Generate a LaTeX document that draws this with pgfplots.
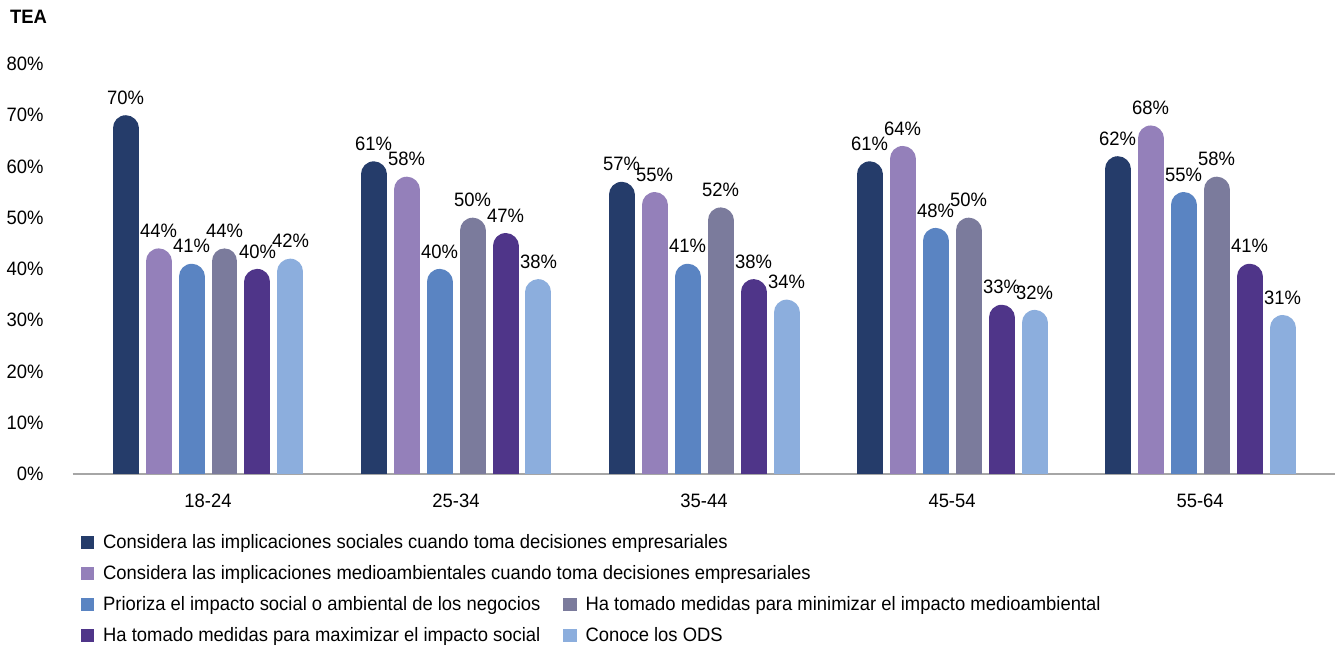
\documentclass[border=0pt]{standalone}
\usepackage{fontspec}
\setmainfont{Liberation Sans}[FakeStretch=0.95]
\usepackage{pgfplots}
\pgfplotsset{compat=1.18}
\usepackage{pgfplotstable}

\definecolor{cA}{HTML}{253C6A}
\definecolor{cB}{HTML}{9480BA}
\definecolor{cC}{HTML}{5A84C2}
\definecolor{cD}{HTML}{7B7B9C}
\definecolor{cE}{HTML}{4F3589}
\definecolor{cF}{HTML}{8CAEDD}
\definecolor{axisgray}{HTML}{A6A6A6}

% TEA por grupo de edad (%)
\pgfplotstableread{
g a b c d e f
0 70 44 41 44 40 42
1 61 58 40 50 47 38
2 57 55 41 52 38 34
3 61 64 48 50 33 32
4 62 68 55 58 41 31
}\teadata

\newcommand{\chartfont}{\fontsize{9.7}{11}\selectfont}

\begin{document}
\begin{tikzpicture}
\begin{axis}[
    name=ax,
    at={(0,0)}, anchor=south west,
    scale only axis,
    width=631.5pt, height=205pt,
    xmin=-0.546, xmax=4.544,
    ymin=0, ymax=80,
    axis x line*=bottom,
    axis y line*=left,
    y axis line style={draw=none},
    x axis line style={draw=axisgray, line width=1pt},
    major tick length=0pt,
    xtick={0,1,2,3,4},
    xticklabels={18-24,25-34,35-44,45-54,55-64},
    ytick={0,10,...,80},
    yticklabel={\pgfmathprintnumber{\tick}\%},
    /pgf/number format/assume math mode=true,
    ticklabel style={font=\chartfont, text=black},
    yticklabel style={xshift=-11pt},
    xticklabel style={yshift=-6.5pt},
    clip=true,
    tbar/.style={ycomb, mark=none, line width=13pt, line cap=round, yshift=-6.5pt},
    nodes near coords={\pgfmathprintnumber{\pgfplotspointmeta}\%},
    every node near coord/.append style={font=\chartfont, text=black, anchor=south, yshift=2pt},
    legend image code/.code={\fill[draw=none] (0pt,3.2pt) rectangle (6.6pt,9.8pt);},
    legend columns=2,
    legend cell align=left,
    legend style={
        at={(axis description cs:0,0)}, anchor=north west,
        xshift=1pt, yshift=-26pt,
        draw=none, fill=none,
        font=\chartfont,
        row sep=3pt,
        /tikz/column 1/.style={column sep=2.5pt},
        /tikz/column 2/.style={column sep=9.5pt},
        /tikz/column 3/.style={column sep=2.5pt},
    },
]
\addplot[tbar, cA] table[x expr=\thisrow{g}-0.3325, y=a]{\teadata};
\addlegendentry{\makebox[0pt][l]{Considera las implicaciones sociales cuando toma decisiones empresariales}}
\addlegendimage{empty legend}\addlegendentry{}
\addplot[tbar, cB] table[x expr=\thisrow{g}-0.1995, y=b]{\teadata};
\addlegendentry{\makebox[0pt][l]{Considera las implicaciones medioambientales cuando toma decisiones empresariales}}
\addlegendimage{empty legend}\addlegendentry{}
\addplot[tbar, cC] table[x expr=\thisrow{g}-0.0665, y=c]{\teadata};
\addlegendentry{Prioriza el impacto social o ambiental de los negocios}
\addplot[tbar, cD] table[x expr=\thisrow{g}+0.0665, y=d]{\teadata};
\addlegendentry{Ha tomado medidas para minimizar el impacto medioambiental}
\addplot[tbar, cE] table[x expr=\thisrow{g}+0.1995, y=e]{\teadata};
\addlegendentry{Ha tomado medidas para maximizar el impacto social}
\addplot[tbar, cF] table[x expr=\thisrow{g}+0.3325, y=f]{\teadata};
\addlegendentry{Conoce los ODS}
\end{axis}
\node[anchor=west, font=\chartfont\bfseries, inner sep=0pt] at (-31.5pt,228.5pt) {TEA};
\path (-36pt,-86.5pt) rectangle (632.5pt,237pt);
\end{tikzpicture}
\end{document}
